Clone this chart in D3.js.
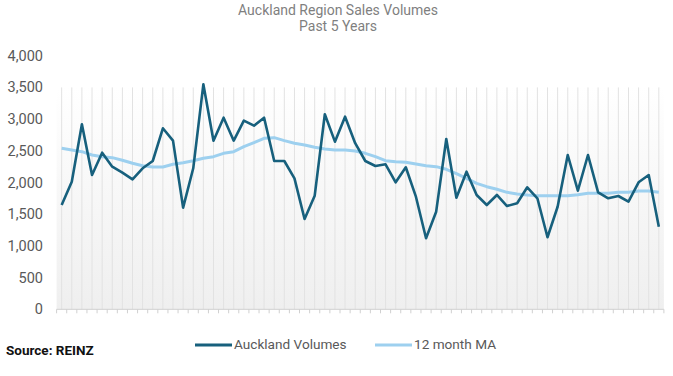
<!DOCTYPE html>
<html>
<head>
<meta charset="utf-8">
<script src="https://cdn.jsdelivr.net/npm/d3@7"></script>
<style>
  body { margin: 0; background: #fff; }
  text { font-family: Roboto, "Noto Sans", sans-serif; }
</style>
</head>
<body>
<div id="chart"></div>
<script>
// monthly sales volumes, last 60 months
var volumes = [1645, 2013, 2918, 2118, 2470, 2249, 2155, 2050, 2224, 2339,
               2855, 2660, 1603, 2224, 3549, 2660, 3022, 2660, 2975, 2896,
               3022, 2339, 2339, 2066, 1424, 1792, 3076, 2644, 3038, 2620,
               2339, 2260, 2287, 2003, 2240, 1776, 1120, 1540, 2686, 1760,
               2171, 1803, 1645, 1803, 1629, 1672, 1924, 1751, 1136, 1618,
               2434, 1871, 2434, 1845, 1751, 1787, 1697, 2003, 2118, 1303];
var movingAvg = [2539, 2513, 2486, 2434, 2407, 2392, 2350, 2303, 2265, 2245,
                 2245, 2287, 2313, 2344, 2382, 2407, 2460, 2486, 2565, 2628,
                 2697, 2707, 2660, 2618, 2592, 2555, 2528, 2513, 2513, 2497,
                 2460, 2407, 2344, 2328, 2318, 2292, 2265, 2250, 2208, 2140,
                 2066, 1987, 1934, 1893, 1845, 1819, 1803, 1792, 1792, 1792,
                 1790, 1808, 1830, 1830, 1830, 1845, 1845, 1866, 1866, 1845];
var yTicks = [0, 500, 1000, 1500, 2000, 2500, 3000, 3500, 4000];
var seriesNames = ["Auckland Volumes", "12 month MA"];
var seriesColors = ["#17607d", "#9dd0ef"];

var width = 673, height = 376;
var months = d3.range(volumes.length);

var svg = d3.select("#chart").append("svg")
    .attr("width", width)
    .attr("height", height);

var x = d3.scaleBand().domain(months).range([56.6, 663.9]);
var y = d3.scaleLinear().domain([0, 4000]).range([309.3, 55.7]);

// plot area background gradient
var grad = svg.append("defs").append("linearGradient")
    .attr("id", "bg").attr("x1", 0).attr("y1", 0).attr("x2", 0).attr("y2", 1);
grad.append("stop").attr("offset", "0%").attr("stop-color", "#ffffff");
grad.append("stop").attr("offset", "100%").attr("stop-color", "#efefef");

svg.append("rect")
    .attr("x", x.range()[0])
    .attr("y", y(3500))
    .attr("width", x.range()[1] - x.range()[0])
    .attr("height", y(0) - y(3500))
    .attr("fill", "url(#bg)");

// vertical lines at each month
svg.selectAll("line.vline")
    .data(months)
    .enter().append("line")
    .attr("class", "vline")
    .attr("x1", function(d) { return x(d) + x.bandwidth() / 2; })
    .attr("x2", function(d) { return x(d) + x.bandwidth() / 2; })
    .attr("y1", y(3500))
    .attr("y2", y(0))
    .attr("stroke", "#e2e2e2")
    .attr("stroke-width", 1);

// x axis line and ticks between months
svg.append("line")
    .attr("x1", x.range()[0]).attr("x2", x.range()[1])
    .attr("y1", y(0)).attr("y2", y(0))
    .attr("stroke", "#d0d0d0");

svg.selectAll("line.xtick")
    .data(d3.range(volumes.length + 1))
    .enter().append("line")
    .attr("class", "xtick")
    .attr("x1", function(d) { return x.range()[0] + d * x.step(); })
    .attr("x2", function(d) { return x.range()[0] + d * x.step(); })
    .attr("y1", y(0))
    .attr("y2", y(0) + 4)
    .attr("stroke", "#d0d0d0");

// y axis labels
svg.selectAll("text.ylab")
    .data(yTicks)
    .enter().append("text")
    .attr("class", "ylab")
    .attr("x", 43)
    .attr("y", function(d) { return y(d); })
    .attr("dy", "0.35em")
    .attr("text-anchor", "end")
    .attr("font-size", 14.5)
    .attr("fill", "#595959")
    .text(d3.format(","));

// lines
var cx = function(d, i) { return x(i) + x.bandwidth() / 2; };
var line = d3.line().x(cx).y(function(d) { return y(d); });

svg.append("path")
    .datum(movingAvg)
    .attr("d", line)
    .attr("fill", "none")
    .attr("stroke", seriesColors[1])
    .attr("stroke-width", 3)
    .attr("stroke-linejoin", "round");

svg.append("path")
    .datum(volumes)
    .attr("d", line)
    .attr("fill", "none")
    .attr("stroke", seriesColors[0])
    .attr("stroke-width", 2.6)
    .attr("stroke-linejoin", "round");

// title
svg.append("text")
    .attr("x", 338).attr("y", 15)
    .attr("text-anchor", "middle")
    .attr("font-size", 14)
    .attr("fill", "#7f7f7f")
    .text("Auckland Region Sales Volumes");
svg.append("text")
    .attr("x", 338).attr("y", 31)
    .attr("text-anchor", "middle")
    .attr("font-size", 14)
    .attr("fill", "#7f7f7f")
    .text("Past 5 Years");

// legend
var legX = [195, 375];
seriesNames.forEach(function(name, i) {
  svg.append("line")
    .attr("x1", legX[i]).attr("x2", legX[i] + 37)
    .attr("y1", 345).attr("y2", 345)
    .attr("stroke", seriesColors[i])
    .attr("stroke-width", 3);
  svg.append("text")
    .attr("x", legX[i] + 39).attr("y", 344)
    .attr("dy", "0.35em")
    .attr("font-size", 13.6)
    .attr("fill", "#595959")
    .text(name);
});

svg.append("text")
    .attr("x", 6).attr("y", 355)
    .attr("font-size", 13.5)
    .attr("font-weight", "bold")
    .attr("fill", "#111")
    .text("Source:  REINZ");
</script>
</body>
</html>
